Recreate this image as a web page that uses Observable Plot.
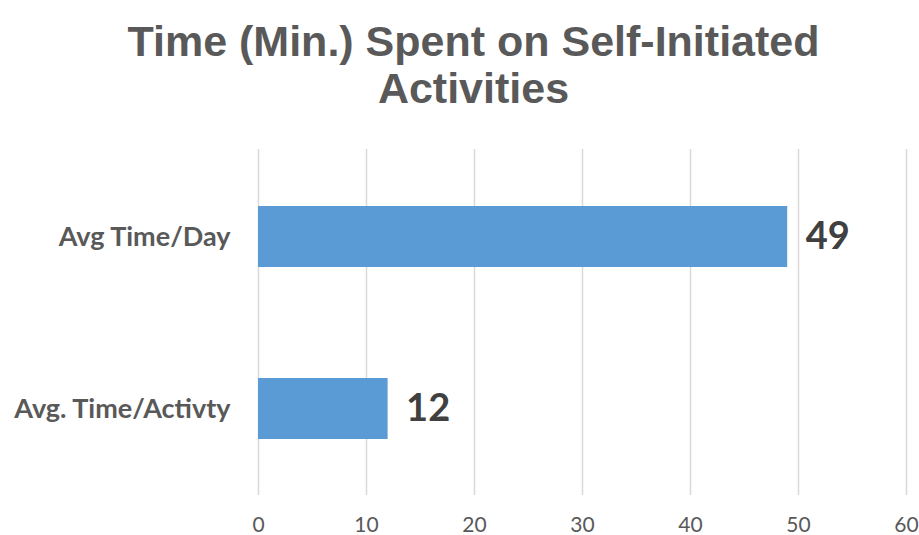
<!DOCTYPE html>
<html>
<head>
<meta charset="utf-8">
<script src="https://cdn.jsdelivr.net/npm/d3@7"></script>
<script src="https://cdn.jsdelivr.net/npm/@observablehq/plot@0.6"></script>
<style>
  body { margin: 0; background: #fff; }
  #wrap { width: 919px; height: 535px; position: relative; overflow: hidden; }
  #title {
    box-sizing: border-box; width: 919px; padding-left: 28px; padding-top: 18px; height: 110px;
    text-align: center; font-family: "Liberation Sans", Arial, sans-serif; font-weight: bold;
    font-size: 43px; line-height: 47px; color: #595959;
  }
</style>
</head>
<body>
<div id="wrap">
  <div id="title">Time (Min.) Spent on Self-Initiated<br>Activities</div>
  <div id="chart"></div>
</div>
<script>
const categories = ["Avg Time/Day", "Avg. Time/Activty"];
const values = [49, 12];
const xTicks = [0, 10, 20, 30, 40, 50, 60];

const data = categories.map((c, i) => ({category: c, value: values[i]}));

const chart = Plot.plot({
  width: 919,
  height: 425,
  marginTop: 39,
  marginBottom: 40,
  marginLeft: 258,
  marginRight: 13,
  style: {fontFamily: "Lato, sans-serif", background: "#fff"},
  x: {domain: [0, 60], ticks: xTicks},
  y: {domain: categories, paddingInner: 0.647, paddingOuter: 0.324},
  marks: [
    Plot.gridX(xTicks, {stroke: "#d9d9d9", strokeOpacity: 1, strokeWidth: 1.5}),
    Plot.barX(data, {x: "value", y: "category", fill: "#5b9bd5"}),
    Plot.text(data, {x: "value", y: "category", text: d => String(d.value), dx: 18, textAnchor: "start",
      fontSize: 38, fontWeight: "bold", fill: "#404040"}),
    Plot.axisX({ticks: xTicks, tickSize: 0, tickPadding: 22, fontSize: 21, fill: "#595959", label: null}),
    Plot.axisY({tickSize: 0, tickPadding: 28, fontSize: 27, fontWeight: "bold", fill: "#595959", label: null})
  ]
});
document.getElementById("chart").appendChild(chart);
</script>
</body>
</html>
